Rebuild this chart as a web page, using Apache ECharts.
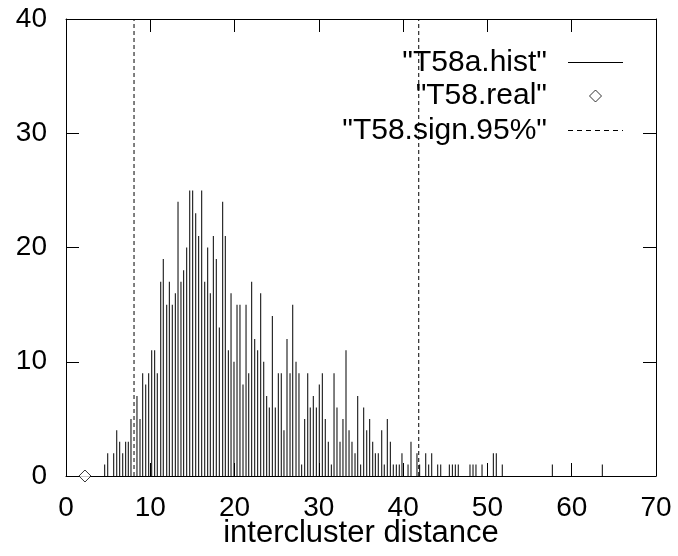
<!DOCTYPE html>
<html>
<head>
<meta charset="utf-8">
<script src="https://cdn.jsdelivr.net/npm/echarts@6/dist/echarts.min.js"></script>
<style>
html,body{margin:0;padding:0;background:#fff;}
#c{width:678px;height:556px;}
</style>
</head>
<body>
<div id="c"></div>
<script>
// ---- data ----
const histX = [4.59,4.95,5.66,6.02,6.37,6.73,7.08,7.39,7.71,8.42,
  8.78,9.10,9.46,9.81,10.17,10.52,10.83,11.24,11.54,11.95,
  12.26,12.61,12.97,13.29,13.64,13.96,14.32,14.68,15.03,15.39,
  15.74,16.10,16.46,16.81,17.12,17.48,17.83,18.19,18.59,18.90,
  19.26,19.58,19.93,20.29,20.64,21.00,21.36,21.68,22.03,22.39,
  22.74,23.10,23.46,23.81,24.12,24.48,24.83,25.19,25.54,25.86,
  26.22,26.58,26.90,27.29,27.64,27.96,28.32,28.68,28.98,29.34,
  29.70,30.05,30.41,30.76,31.12,31.48,31.80,32.15,32.51,32.86,
  33.22,33.58,33.93,34.29,34.61,34.96,35.32,35.68,36.03,36.39,
  36.70,37.05,37.46,37.76,38.12,38.48,38.83,39.19,39.54,39.86,
  40.58,40.93,41.64,41.96,42.68,43.03,43.39,44.10,44.46,45.48,
  45.84,46.19,46.54,47.93,48.29,48.64,49.36,50.70,51.05,51.76,
  57.70,63.63];
const histCount = [1,2,2,4,3,2,3,3,5,7,
  5,9,8,9,11,11,9,17,19,15,
  17,15,16,24,17,18,20,25,25,23,
  21,25,17,20,16,21,19,13,24,21,
  11,16,10,15,15,8,15,9,17,12,
  11,16,10,7,6,14,6,9,9,4,
  12,9,15,10,9,1,5,9,6,7,
  6,8,9,5,3,1,9,6,3,5,
  11,4,3,2,7,1,6,4,5,3,
  2,2,4,1,5,3,1,1,1,2,
  1,3,2,1,2,1,2,1,1,1,
  1,1,1,1,1,1,1,2,2,1,
  1,1];
const realX = [2.25];
const realY = [0];
const signX = [8.07, 41.85];
const signYRange = [0, 40];
const seriesNames = ['"T58a.hist"', '"T58.real"', '"T58.sign.95%"'];
const xAxisName = 'intercluster distance';
const xRange = [0, 70, 10];
const yRange = [0, 40, 10];

// ---- chart ----
const FONT = "'Liberation Sans', Arial, Helvetica, sans-serif";
const chart = echarts.init(document.getElementById('c'), null, {renderer: 'canvas'});

const histData = histX.map((x, i) => [x, histCount[i]]);
const realData = realX.map((x, i) => [x, realY[i]]);

const axisLineStyle = {show: true, onZero: false, lineStyle: {color: '#000', width: 1}};
const tickStyle = {show: true, inside: true, length: 13, lineStyle: {color: '#000', width: 1}};

const signSeries = signX.map(x => ({
  name: seriesNames[2],
  type: 'line',
  data: [[x, signYRange[0]], [x, signYRange[1]]],
  symbol: 'none',
  lineStyle: {color: '#000', width: 1, type: [4, 3]},
  z: 3,
  silent: true
}));

const dashPath = 'path://M0,0h5v1h-5z M9,0h5v1h-5z M18,0h5v1h-5z M27,0h5v1h-5z M36,0h5v1h-5z M45,0h5v1h-5z M54,0h1v1h-1z';
const legendText = {color: '#000', fontSize: 30, fontFamily: FONT, padding: [0, 16, 0, 0]};

const option = {
  animation: false,
  backgroundColor: '#fff',
  grid: {left: 66, right: 22, top: 19, bottom: 80, outerBoundsMode: 'none', containLabel: false},
  xAxis: [
    {type: 'value', position: 'bottom', min: xRange[0], max: xRange[1], interval: xRange[2],
     axisLine: axisLineStyle, axisTick: tickStyle, splitLine: {show: false},
     axisLabel: {color: '#000', fontSize: 28, fontFamily: FONT, margin: 18},
     name: xAxisName, nameLocation: 'middle', nameGap: 42, nameMoveOverlap: false,
     nameTextStyle: {color: '#000', fontSize: 31, fontFamily: FONT}},
    {type: 'value', position: 'top', min: xRange[0], max: xRange[1], interval: xRange[2],
     axisLine: axisLineStyle, axisTick: tickStyle, splitLine: {show: false},
     axisLabel: {show: false}}
  ],
  yAxis: [
    {type: 'value', position: 'left', min: yRange[0], max: yRange[1], interval: yRange[2],
     axisLine: axisLineStyle, axisTick: tickStyle, splitLine: {show: false},
     axisLabel: {color: '#000', fontSize: 28, fontFamily: FONT, margin: 19}},
    {type: 'value', position: 'right', min: yRange[0], max: yRange[1], interval: yRange[2],
     axisLine: axisLineStyle, axisTick: tickStyle, splitLine: {show: false},
     axisLabel: {show: false}}
  ],
  legend: [
    {data: [seriesNames[0]], right: 55, top: 47.5, padding: 0, align: 'right', orient: 'vertical',
     selectedMode: false, icon: 'rect', itemWidth: 55, itemHeight: 1,
     itemStyle: {color: '#000', borderWidth: 0}, textStyle: legendText},
    {data: [seriesNames[1]], right: 76, top: 81, padding: 0, align: 'right', orient: 'vertical',
     selectedMode: false, icon: 'path://M5,0L10,5L5,10L0,5Z', itemWidth: 55, itemHeight: 12,
     itemStyle: {color: '#fff', borderColor: '#000', borderWidth: 1}, textStyle: legendText},
    {data: [seriesNames[2]], right: 55, top: 115.5, padding: 0, align: 'right', orient: 'vertical',
     selectedMode: false, icon: dashPath, itemWidth: 55, itemHeight: 1,
     itemStyle: {color: '#000', borderWidth: 0}, textStyle: legendText}
  ],
  series: [
    {name: seriesNames[0], type: 'bar', data: histData, barWidth: 1,
     itemStyle: {color: '#000'}, silent: true, z: 2},
    {name: seriesNames[1], type: 'scatter', data: realData, symbol: 'diamond', symbolSize: 12,
     itemStyle: {color: '#fff', borderColor: '#000', borderWidth: 1}, clip: false, z: 4, silent: true}
  ].concat(signSeries)
};
chart.setOption(option);
</script>
</body>
</html>
